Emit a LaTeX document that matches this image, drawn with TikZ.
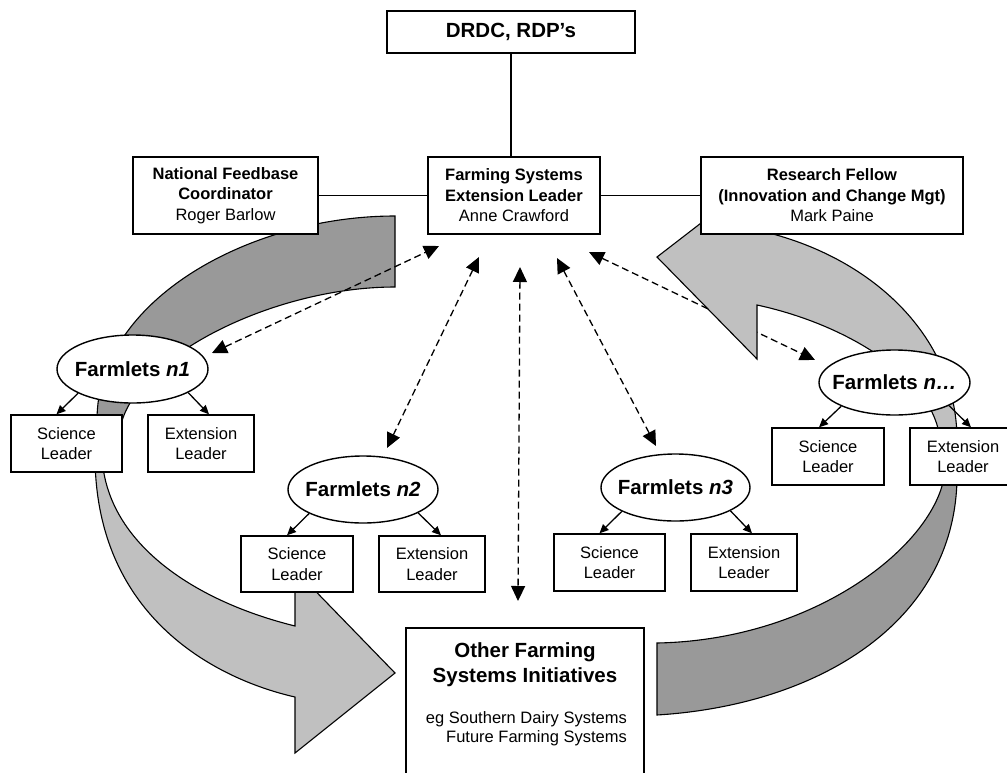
\documentclass[tikz,border=0pt]{standalone}
\usepackage{fontspec}
\setmainfont{Liberation Sans}
\usetikzlibrary{arrows.meta,shapes.geometric}
\definecolor{bandback}{RGB}{153,153,153}
\definecolor{bandfront}{RGB}{192,192,192}
\newcommand\boxfont{\fontsize{16.5}{20.5}\selectfont}
\newcommand\bigbold{\fontsize{20.5}{24}\selectfont\bfseries}
\newcommand\ovaltext[1]{\makebox[0pt][c]{#1}}
\tikzset{
  box/.style={draw, line width=1.4pt, fill=white, align=center, inner sep=0pt, font=\boxfont},
  oval/.style={ellipse, draw, line width=1.4pt, fill=white, inner sep=0pt, font=\bigbold},
  link/.style={line width=1.3pt},
  kid/.style={line width=1.3pt, -{Triangle[length=9pt,width=8pt]}},
  twoway/.style={line width=1.3pt, dash pattern=on 7pt off 4pt,
    {Triangle[length=15pt,width=14pt]}-{Triangle[length=15pt,width=14pt]}},
  band/.style={draw, line width=1.1pt, line join=miter},
  txt/.style={inner sep=0pt}
}
\begin{document}
\begin{tikzpicture}[x=1pt,y=-1pt]
\useasboundingbox (0,0) rectangle (1007,772);
\clip (0,0) rectangle (1007,772);

% back (dark) parts of the ribbon
\path[band, fill=bandback] (395,216) .. controls (250,216) and (97,300) .. (97,420)
  -- (120,430) .. controls (130,360) and (270,287) .. (395,287) -- cycle;
\path[band, fill=bandback] (957,470) .. controls (960,620) and (820,705) .. (657,715)
  -- (657,643) .. controls (820,640) and (940,540) .. (945,470) -- cycle;

% dashed two-way connectors
\coordinate (d1a) at (212,353); \coordinate (d1b) at (439,246);
\coordinate (d2a) at (479,257); \coordinate (d2b) at (387,448);
\coordinate (d3a) at (520,267); \coordinate (d3b) at (518,601);
\coordinate (d4a) at (557,258); \coordinate (d4b) at (656,446);
\coordinate (d5a) at (589,252); \coordinate (d5b) at (815,360);
\draw[twoway] (d1a) -- (d1b);
\draw[twoway] (d2a) -- (d2b);
\draw[twoway] (d3a) -- (d3b);
\draw[twoway] (d4a) -- (d4b);
\draw[twoway] (d5a) -- (d5b);

% front (light) parts of the ribbon
\path[band, fill=bandfront] (95,455) .. controls (95,620) and (220,680) .. (295,697)
  -- (295,753) -- (395,673) -- (295,570) -- (295,626)
  .. controls (190,600) and (105,540) .. (102,455) -- cycle;
\path[band, fill=bandfront] (657,257) -- (727,203) -- (735,226)
  .. controls (860,245) and (957,330) .. (957,440) -- (940,440)
  .. controls (935,380) and (850,325) .. (757,305) -- (757,359) -- cycle;

% top boxes
\node[box, minimum width=248pt, minimum height=42pt, font=\bigbold] (drdc) at (511,32) {DRDC, RDP’s};
\node[box, minimum width=185pt, minimum height=77pt] (nfc) at (225.5,195.5)
  {\textbf{National Feedbase}\\\textbf{Coordinator}\\Roger Barlow};
\node[box, minimum width=172pt, minimum height=77pt] (fsel) at (514,195.5)
  {\textbf{Farming Systems}\\\textbf{Extension Leader}\\Anne Crawford};
\node[box, minimum width=262pt, minimum height=77pt] (rf) at (832,195.5)
  {\textbf{Research Fellow}\\\textbf{(Innovation and Change Mgt)}\\Mark Paine};
\draw[link] (drdc.south) -- (drdc.south |- fsel.north);
\draw[link] (nfc.east) -- (fsel.west);
\draw[link] (fsel.east) -- (rf.west);

% farmlets
\node[oval, minimum width=151pt, minimum height=68pt] (n1) at (132.5,369) {\ovaltext{Farmlets \textit{n1}}};
\node[oval, minimum width=150pt, minimum height=67pt] (n2) at (363,489.5) {\ovaltext{Farmlets \textit{n2}}};
\node[oval, minimum width=149pt, minimum height=67pt] (n3) at (675.5,487.5) {\ovaltext{Farmlets \textit{n3}}};
\node[oval, minimum width=151pt, minimum height=65pt] (nd) at (894.5,382.5) {\ovaltext{Farmlets \textit{n…}}};

\node[box, minimum width=111pt, minimum height=57pt] (n1s) at (66.5,443.5) {Science\\Leader};
\node[box, minimum width=106pt, minimum height=57pt] (n1e) at (201,443.5) {Extension\\Leader};
\node[box, minimum width=112pt, minimum height=56pt] (n2s) at (297,564) {Science\\Leader};
\node[box, minimum width=106pt, minimum height=56pt] (n2e) at (432,564) {Extension\\Leader};
\node[box, minimum width=111pt, minimum height=57pt] (n3s) at (609.5,562.5) {Science\\Leader};
\node[box, minimum width=106pt, minimum height=57pt] (n3e) at (744,562.5) {Extension\\Leader};
\node[box, minimum width=112pt, minimum height=57pt] (nds) at (828,456.5) {Science\\Leader};
\node[box, minimum width=106pt, minimum height=57pt] (nde) at (963,456.5) {Extension\\Leader};

\draw[kid] (n1.204) -- ([xshift=-10pt]n1s.north);
\draw[kid] (n1.337) -- ([xshift=8pt]n1e.north);
\draw[kid] (n2.204) -- ([xshift=-10pt]n2s.north);
\draw[kid] (n2.337) -- ([xshift=9pt]n2e.north);
\draw[kid] (n3.204) -- ([xshift=-10pt]n3s.north);
\draw[kid] (n3.337) -- ([xshift=8pt]n3e.north);
\draw[kid] (nd.204) -- ([xshift=-9pt]nds.north);
\draw[kid] (nd.337) -- ([xshift=8pt]nde.north);

% other initiatives
\node[box, minimum width=238pt, minimum height=162pt] (ofsi) at (525,709) {};
\node[txt, anchor=base, font=\bigbold] (of1) at (525,657) {Other Farming};
\node[txt, anchor=base, font=\bigbold] (of2) at (525,682) {Systems Initiatives};
\node[txt, anchor=base east, font=\boxfont] (of3) at (627,723) {eg Southern Dairy Systems};
\node[txt, anchor=base east, font=\boxfont] (of4) at (627,742) {Future Farming Systems};
\end{tikzpicture}
\end{document}
